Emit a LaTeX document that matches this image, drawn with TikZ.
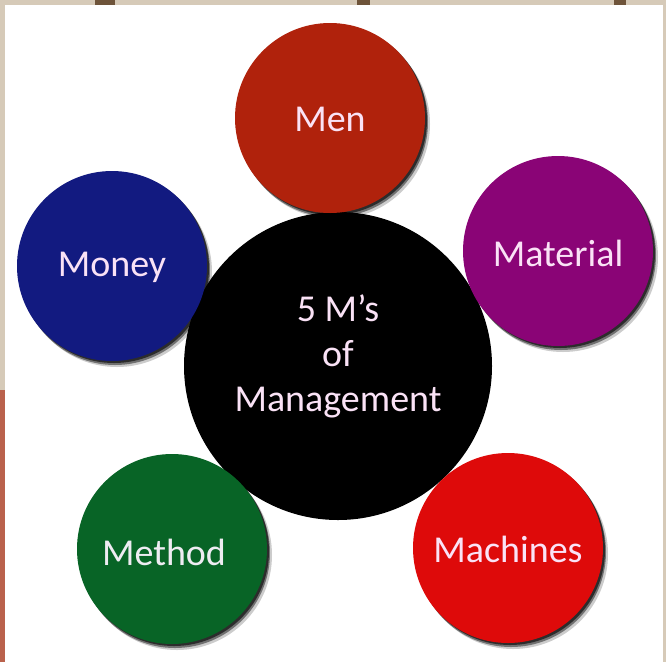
\documentclass[tikz,border=0pt]{standalone}
\usepackage{fontspec}
\setmainfont{Carlito}
\definecolor{menc}{RGB}{176,34,12}
\definecolor{moneyc}{RGB}{18,26,128}
\definecolor{matc}{RGB}{138,4,118}
\definecolor{methc}{RGB}{8,100,38}
\definecolor{machc}{RGB}{222,10,10}
\definecolor{txtc}{RGB}{250,226,246}
\definecolor{txtw}{RGB}{238,236,242}
\definecolor{woodc}{RGB}{214,202,184}
\definecolor{brickc}{RGB}{186,98,76}
\definecolor{knotc}{RGB}{110,84,58}
\tikzset{
  ball/.style={circle, inner sep=0pt, minimum size=190pt, fill=#1, text=txtc,
    font=\fontsize{38}{45}\selectfont, text depth=0pt,
    preaction={fill=black, opacity=.2, transform canvas={shift={(5pt,-6pt)}}},
    preaction={fill=black, opacity=.45, transform canvas={shift={(3pt,-4pt)}}},
    preaction={fill=black, opacity=.6, transform canvas={shift={(2pt,-2pt)}}}},
  hub/.style={circle, inner sep=0pt, minimum size=308pt, fill=black},
  hubtext/.style={text=txtc, align=center, inner sep=0pt, font=\fontsize{38}{45}\selectfont}
}
\begin{document}
\begin{tikzpicture}[x=1pt,y=-1pt]
\useasboundingbox (0,0) rectangle (666,662);
\fill[woodc] (0,0) rectangle (666,662);
\fill[brickc] (0,390) rectangle (6,662);
\fill[knotc] (95,0) rectangle (115,5);
\fill[knotc] (357,0) rectangle (370,5);
\fill[knotc] (614,0) rectangle (626,5);
\fill[white] (5,5) rectangle (663,662);
\node[hub] (hub) at (338,366) {};
\node[hubtext] (hubt) at ([yshift=10pt]hub.center) {5 M’s\\of\\Management};
\node[ball=menc, text height=26pt] (men) at (330,118) {Men};
\node[ball=moneyc, text height=20pt] (money) at (112,266) {Money};
\node[ball=matc, text height=31pt] (mat) at (558,251) {Material};
\node[ball=methc, text height=32pt, text=txtw] (meth) at (172,549) {\hspace*{-16pt}Method};
\node[ball=machc, text height=29pt] (mach) at (508,548) {Machines};
\end{tikzpicture}
\end{document}
